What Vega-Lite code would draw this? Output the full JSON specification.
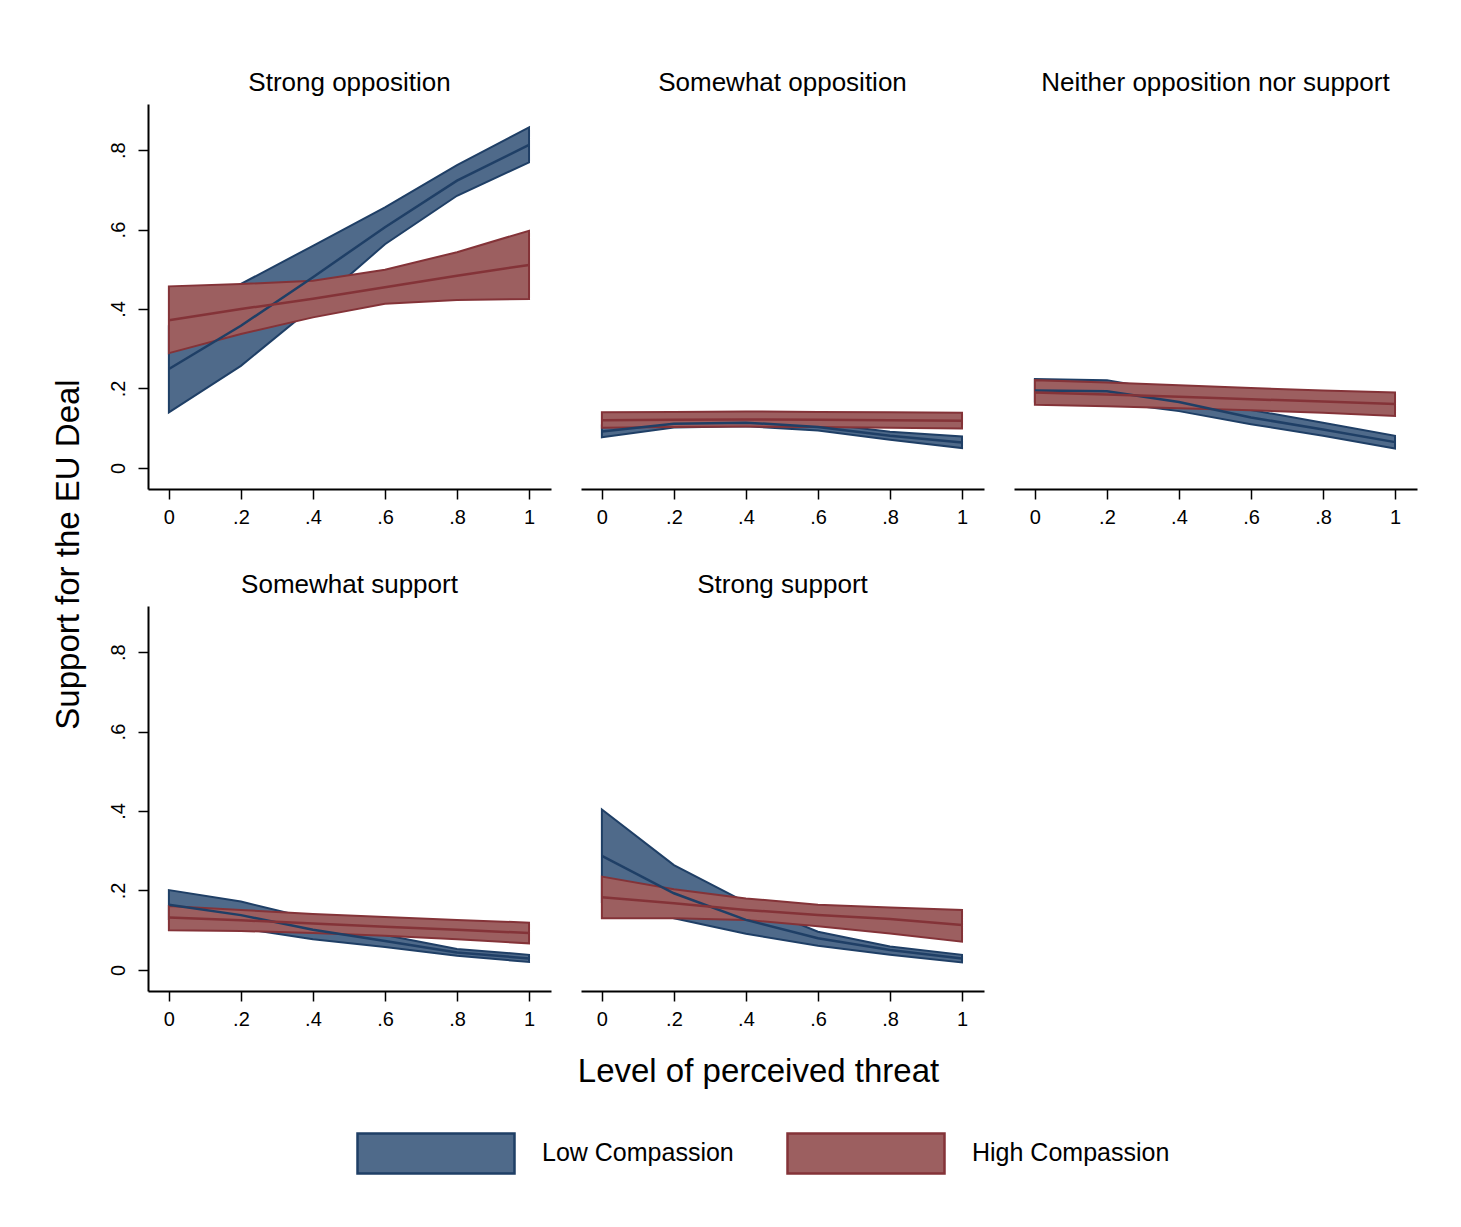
{
  "$schema": "https://vega.github.io/schema/vega-lite/v6.json",
  "background": "white",
  "padding": {"left": 52, "top": 70, "right": 40, "bottom": 50},
  "title": {"text": "Support for the EU Deal", "orient": "left", "fontSize": 33, "fontWeight": "normal", "font": "Liberation Sans", "color": "black", "offset": 22, "anchor": "middle", "dx": 70},
  "config": {
    "font": "Liberation Sans",
    "view": {"stroke": null},
    "axis": {"grid": false, "domainColor": "black", "domainWidth": 2, "tickColor": "black", "tickWidth": 1.5, "tickSize": 10, "labelFontSize": 20, "labelColor": "black", "labelPadding": 8, "title": null},
    "legend": {"orient": "bottom", "direction": "horizontal", "title": null, "symbolType": "M-1,-0.255H1V0.255H-1Z", "symbolSize": 24649, "symbolStrokeWidth": 2.5, "symbolOpacity": 1, "labelFontSize": 25, "labelColor": "black", "labelOffset": 26, "labelLimit": 500, "columnPadding": 48, "offset": -16, "layout": {"bottom": {"anchor": "middle"}}},
    "header": {"labelFontSize": 26, "labelColor": "black", "labelPadding": 8, "labelFont": "Liberation Sans"}
  },
  "vconcat": [
    {
      "data": {"values": [
        {"p": "Strong opposition", "g": "Low Compassion", "x": 0, "m": 0.249, "lo": 0.140, "hi": 0.358},
        {"p": "Strong opposition", "g": "Low Compassion", "x": 0.2, "m": 0.358, "lo": 0.257, "hi": 0.463},
        {"p": "Strong opposition", "g": "Low Compassion", "x": 0.4, "m": 0.480, "lo": 0.405, "hi": 0.559},
        {"p": "Strong opposition", "g": "Low Compassion", "x": 0.6, "m": 0.606, "lo": 0.563, "hi": 0.656},
        {"p": "Strong opposition", "g": "Low Compassion", "x": 0.8, "m": 0.723, "lo": 0.685, "hi": 0.762},
        {"p": "Strong opposition", "g": "Low Compassion", "x": 1, "m": 0.813, "lo": 0.769, "hi": 0.857},
        {"p": "Strong opposition", "g": "High Compassion", "x": 0, "m": 0.372, "lo": 0.289, "hi": 0.457},
        {"p": "Strong opposition", "g": "High Compassion", "x": 0.2, "m": 0.400, "lo": 0.337, "hi": 0.463},
        {"p": "Strong opposition", "g": "High Compassion", "x": 0.4, "m": 0.426, "lo": 0.379, "hi": 0.471},
        {"p": "Strong opposition", "g": "High Compassion", "x": 0.6, "m": 0.455, "lo": 0.413, "hi": 0.499},
        {"p": "Strong opposition", "g": "High Compassion", "x": 0.8, "m": 0.484, "lo": 0.423, "hi": 0.543},
        {"p": "Strong opposition", "g": "High Compassion", "x": 1, "m": 0.511, "lo": 0.425, "hi": 0.597},
        {"p": "Somewhat opposition", "g": "Low Compassion", "x": 0, "m": 0.092, "lo": 0.077, "hi": 0.107},
        {"p": "Somewhat opposition", "g": "Low Compassion", "x": 0.2, "m": 0.111, "lo": 0.102, "hi": 0.120},
        {"p": "Somewhat opposition", "g": "Low Compassion", "x": 0.4, "m": 0.114, "lo": 0.105, "hi": 0.123},
        {"p": "Somewhat opposition", "g": "Low Compassion", "x": 0.6, "m": 0.103, "lo": 0.094, "hi": 0.113},
        {"p": "Somewhat opposition", "g": "Low Compassion", "x": 0.8, "m": 0.081, "lo": 0.071, "hi": 0.091},
        {"p": "Somewhat opposition", "g": "Low Compassion", "x": 1, "m": 0.064, "lo": 0.050, "hi": 0.079},
        {"p": "Somewhat opposition", "g": "High Compassion", "x": 0, "m": 0.120, "lo": 0.101, "hi": 0.140},
        {"p": "Somewhat opposition", "g": "High Compassion", "x": 0.2, "m": 0.121, "lo": 0.103, "hi": 0.141},
        {"p": "Somewhat opposition", "g": "High Compassion", "x": 0.4, "m": 0.122, "lo": 0.104, "hi": 0.142},
        {"p": "Somewhat opposition", "g": "High Compassion", "x": 0.6, "m": 0.121, "lo": 0.103, "hi": 0.141},
        {"p": "Somewhat opposition", "g": "High Compassion", "x": 0.8, "m": 0.120, "lo": 0.101, "hi": 0.140},
        {"p": "Somewhat opposition", "g": "High Compassion", "x": 1, "m": 0.119, "lo": 0.099, "hi": 0.139},
        {"p": "Neither opposition nor support", "g": "Low Compassion", "x": 0, "m": 0.195, "lo": 0.167, "hi": 0.224},
        {"p": "Neither opposition nor support", "g": "Low Compassion", "x": 0.2, "m": 0.193, "lo": 0.166, "hi": 0.221},
        {"p": "Neither opposition nor support", "g": "Low Compassion", "x": 0.4, "m": 0.166, "lo": 0.143, "hi": 0.190},
        {"p": "Neither opposition nor support", "g": "Low Compassion", "x": 0.6, "m": 0.127, "lo": 0.110, "hi": 0.146},
        {"p": "Neither opposition nor support", "g": "Low Compassion", "x": 0.8, "m": 0.097, "lo": 0.081, "hi": 0.114},
        {"p": "Neither opposition nor support", "g": "Low Compassion", "x": 1, "m": 0.065, "lo": 0.049, "hi": 0.081},
        {"p": "Neither opposition nor support", "g": "High Compassion", "x": 0, "m": 0.190, "lo": 0.159, "hi": 0.221},
        {"p": "Neither opposition nor support", "g": "High Compassion", "x": 0.2, "m": 0.185, "lo": 0.155, "hi": 0.215},
        {"p": "Neither opposition nor support", "g": "High Compassion", "x": 0.4, "m": 0.179, "lo": 0.150, "hi": 0.208},
        {"p": "Neither opposition nor support", "g": "High Compassion", "x": 0.6, "m": 0.173, "lo": 0.145, "hi": 0.201},
        {"p": "Neither opposition nor support", "g": "High Compassion", "x": 0.8, "m": 0.167, "lo": 0.139, "hi": 0.195},
        {"p": "Neither opposition nor support", "g": "High Compassion", "x": 1, "m": 0.161, "lo": 0.131, "hi": 0.190},
        {"p": "Somewhat support", "g": "Low Compassion", "x": 0, "m": 0.164, "lo": 0.128, "hi": 0.201},
        {"p": "Somewhat support", "g": "Low Compassion", "x": 0.2, "m": 0.138, "lo": 0.105, "hi": 0.172},
        {"p": "Somewhat support", "g": "Low Compassion", "x": 0.4, "m": 0.101, "lo": 0.077, "hi": 0.128},
        {"p": "Somewhat support", "g": "Low Compassion", "x": 0.6, "m": 0.073, "lo": 0.058, "hi": 0.088},
        {"p": "Somewhat support", "g": "Low Compassion", "x": 0.8, "m": 0.044, "lo": 0.036, "hi": 0.053},
        {"p": "Somewhat support", "g": "Low Compassion", "x": 1, "m": 0.029, "lo": 0.020, "hi": 0.038},
        {"p": "Somewhat support", "g": "High Compassion", "x": 0, "m": 0.132, "lo": 0.100, "hi": 0.161},
        {"p": "Somewhat support", "g": "High Compassion", "x": 0.2, "m": 0.125, "lo": 0.098, "hi": 0.151},
        {"p": "Somewhat support", "g": "High Compassion", "x": 0.4, "m": 0.117, "lo": 0.093, "hi": 0.141},
        {"p": "Somewhat support", "g": "High Compassion", "x": 0.6, "m": 0.109, "lo": 0.086, "hi": 0.133},
        {"p": "Somewhat support", "g": "High Compassion", "x": 0.8, "m": 0.101, "lo": 0.077, "hi": 0.126},
        {"p": "Somewhat support", "g": "High Compassion", "x": 1, "m": 0.093, "lo": 0.067, "hi": 0.119},
        {"p": "Strong support", "g": "Low Compassion", "x": 0, "m": 0.287, "lo": 0.170, "hi": 0.404},
        {"p": "Strong support", "g": "Low Compassion", "x": 0.2, "m": 0.193, "lo": 0.130, "hi": 0.264},
        {"p": "Strong support", "g": "Low Compassion", "x": 0.4, "m": 0.126, "lo": 0.091, "hi": 0.170},
        {"p": "Strong support", "g": "Low Compassion", "x": 0.6, "m": 0.080, "lo": 0.061, "hi": 0.096},
        {"p": "Strong support", "g": "Low Compassion", "x": 0.8, "m": 0.050, "lo": 0.038, "hi": 0.059},
        {"p": "Strong support", "g": "Low Compassion", "x": 1, "m": 0.029, "lo": 0.019, "hi": 0.038},
        {"p": "Strong support", "g": "High Compassion", "x": 0, "m": 0.183, "lo": 0.130, "hi": 0.235},
        {"p": "Strong support", "g": "High Compassion", "x": 0.2, "m": 0.168, "lo": 0.130, "hi": 0.203},
        {"p": "Strong support", "g": "High Compassion", "x": 0.4, "m": 0.151, "lo": 0.126, "hi": 0.180},
        {"p": "Strong support", "g": "High Compassion", "x": 0.6, "m": 0.138, "lo": 0.110, "hi": 0.164},
        {"p": "Strong support", "g": "High Compassion", "x": 0.8, "m": 0.128, "lo": 0.092, "hi": 0.157},
        {"p": "Strong support", "g": "High Compassion", "x": 1, "m": 0.113, "lo": 0.071, "hi": 0.151}
      ]},
      "facet": {"field": "p", "type": "nominal", "title": null, "sort": ["Strong opposition", "Somewhat opposition", "Neither opposition nor support", "Somewhat support", "Strong support"]},
      "columns": 3,
      "spacing": {"column": 30, "row": 45},
      "title": {"text": "Level of perceived threat", "orient": "bottom", "fontSize": 33, "fontWeight": "normal", "font": "Liberation Sans", "color": "black", "offset": 27, "anchor": "middle", "dx": -4},
      "resolve": {"axis": {"x": "independent"}},
      "spec": {
        "width": 403,
        "height": 385,
        "encoding": {
          "x": {"field": "x", "type": "quantitative", "scale": {"domain": [-0.058, 1.061], "nice": false, "zero": false}, "axis": {"values": [0, 0.2, 0.4, 0.6, 0.8, 1], "labelExpr": "datum.value == 0 ? '0' : datum.value == 1 ? '1' : substring(format(datum.value, '.1f'), 1)"}}
        },
        "layer": [
          {
            "transform": [{"filter": "datum.g == 'Low Compassion'"}],
            "mark": {"type": "area", "strokeWidth": 2, "fillOpacity": 1},
            "encoding": {
              "y": {"field": "lo", "type": "quantitative", "scale": {"domain": [-0.053, 0.916], "nice": false}, "axis": {"values": [0, 0.2, 0.4, 0.6, 0.8], "labelAngle": -90, "labelAlign": "center", "labelBaseline": "bottom", "labelPadding": 10, "labelExpr": "datum.value == 0 ? '0' : substring(format(datum.value, '.1f'), 1)"}},
              "y2": {"field": "hi"},
              "fill": {"field": "g", "type": "nominal", "scale": {"domain": ["Low Compassion", "High Compassion"], "range": ["#4F6A8A", "#9C5F60"]}},
              "stroke": {"field": "g", "type": "nominal", "scale": {"domain": ["Low Compassion", "High Compassion"], "range": ["#1F3F66", "#843338"]}}
            }
          },
          {
            "transform": [{"filter": "datum.g == 'High Compassion'"}],
            "mark": {"type": "area", "strokeWidth": 2, "fillOpacity": 1},
            "encoding": {
              "y": {"field": "lo", "type": "quantitative"},
              "y2": {"field": "hi"},
              "fill": {"field": "g", "type": "nominal"},
              "stroke": {"field": "g", "type": "nominal"}
            }
          },
          {
            "transform": [{"filter": "datum.g == 'Low Compassion'"}],
            "mark": {"type": "line", "strokeWidth": 2.5},
            "encoding": {
              "y": {"field": "m", "type": "quantitative"},
              "stroke": {"field": "g", "type": "nominal"}
            }
          },
          {
            "transform": [{"filter": "datum.g == 'High Compassion'"}],
            "mark": {"type": "line", "strokeWidth": 2.5},
            "encoding": {
              "y": {"field": "m", "type": "quantitative"},
              "stroke": {"field": "g", "type": "nominal"}
            }
          }
        ]
      }
    }
  ]
}
